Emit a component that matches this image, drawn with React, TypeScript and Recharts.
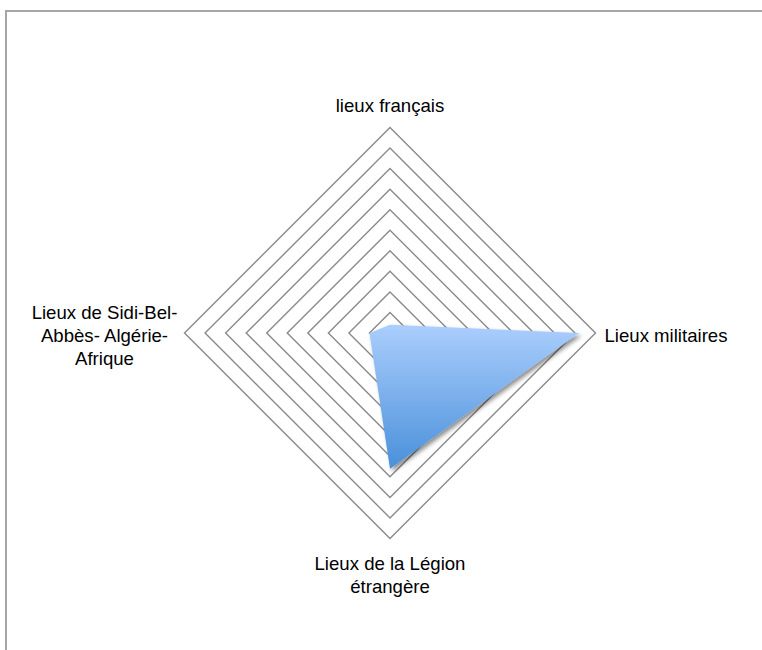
import { PolarAngleAxis, PolarGrid, PolarRadiusAxis, Radar, RadarChart } from "recharts"

// categories, clockwise from the top
const categories = [
  "lieux français",
  "Lieux militaires",
  "Lieux de la Légion étrangère",
  "Lieux de Sidi-Bel-Abbès- Algérie-Afrique",
]
// wrapped label lines as shown on the chart
const labelLines: Record<string, string[]> = {
  "lieux français": ["lieux français"],
  "Lieux militaires": ["Lieux militaires"],
  "Lieux de la Légion étrangère": ["Lieux de la Légion", "étrangère"],
  "Lieux de Sidi-Bel-Abbès- Algérie-Afrique": ["Lieux de Sidi-Bel-", "Abbès- Algérie-", "Afrique"],
}
const values = [4, 92, 66, 10]
const radiusTicks = [0, 10, 20, 30, 40, 50, 60, 70, 80, 90, 100]

const data = categories.map((name, i) => ({ name, value: values[i] }))

const FONT = "'Liberation Sans', Arial, sans-serif"
const LINE = 23

function AngleTick(props: any) {
  const { x, y, payload, textAnchor } = props
  const lines = labelLines[payload.value] || [payload.value]
  let tx = x
  let anchor = textAnchor
  let firstBaseline: number
  if (textAnchor === "middle") {
    // top label sits above the tick, bottom label below
    if (y < 333) firstBaseline = y - 8 - (lines.length - 1) * LINE
    else firstBaseline = y + 23.5
  } else {
    firstBaseline = y + 8.5 - ((lines.length - 1) * LINE) / 2
    if (textAnchor === "end") {
      tx = x - 72
      anchor = "middle"
    } else {
      tx = x + 1
    }
  }
  return (
    <text x={tx} y={firstBaseline} textAnchor={anchor} fill="#000" fontSize={18.6} fontFamily={FONT}>
      {lines.map((l, i) => (
        <tspan key={i} x={tx} dy={i === 0 ? 0 : LINE}>
          {l}
        </tspan>
      ))}
    </text>
  )
}

export default function App() {
  return (
    <div style={{ position: "absolute", left: 0, top: 0, width: 762, height: 650, background: "#fff" }}>
      <div
        style={{
          position: "absolute",
          left: 5,
          top: 10,
          width: 800,
          height: 700,
          borderLeft: "2px solid #a6a6a6",
          borderTop: "2px solid #a6a6a6",
        }}
      />
      <RadarChart
        width={762}
        height={650}
        data={data}
        cx={390}
        cy={333}
        outerRadius={205.5}
        margin={{ top: 0, right: 0, bottom: 0, left: 0 }}
        style={{ position: "absolute", left: 0, top: 0 }}
      >
        <defs>
          <linearGradient id="fillGrad" x1="0" y1="0" x2="0" y2="1">
            <stop offset="0%" stopColor="#abcefd" />
            <stop offset="100%" stopColor="#4a90da" />
          </linearGradient>
          <filter id="shadow" x="-20%" y="-20%" width="140%" height="140%">
            <feDropShadow dx="2.5" dy="2.5" stdDeviation="2.2" floodColor="#000" floodOpacity="0.45" />
          </filter>
        </defs>
        <PolarGrid gridType="polygon" radialLines={false} stroke="#8a8a8a" strokeWidth={1.4} />
        <PolarAngleAxis dataKey="name" tick={<AngleTick />} axisLine={false} tickLine={false} />
        <PolarRadiusAxis domain={[0, 100]} ticks={radiusTicks as any} tickCount={11} tick={false} axisLine={false} />
        <Radar
          dataKey="value"
          fill="url(#fillGrad)"
          fillOpacity={1}
          stroke="none"
          filter="url(#shadow)"
          dot={false}
          isAnimationActive={false}
        />
      </RadarChart>
    </div>
  )
}
